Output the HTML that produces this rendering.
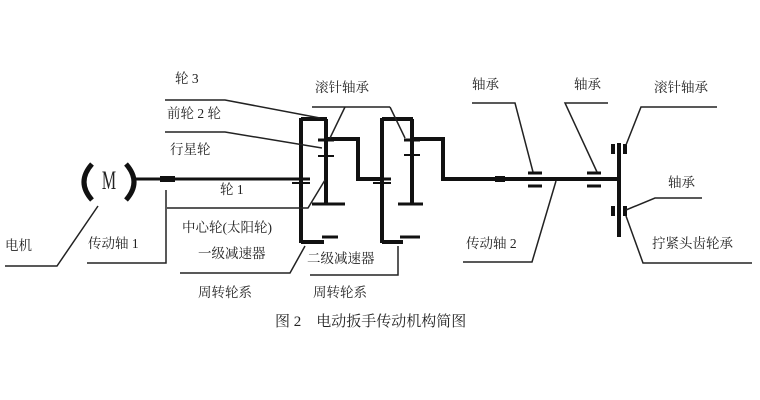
<!DOCTYPE html>
<html><head><meta charset="utf-8"><style>
html,body{margin:0;padding:0;background:#fff;}
svg{display:block}
text{font-family:"Liberation Serif","Noto Serif CJK SC","Noto Sans CJK SC",serif;font-size:13.5px;fill:#222}
</style></head><body>
<svg width="760" height="400" viewBox="0 0 760 400">
<g stroke="#111" fill="none">
<path d="M92 164 Q76 182 92 200" stroke-width="5"/>
<path d="M126 164 Q142 182 126 200" stroke-width="5"/>
<line x1="133" y1="179" x2="300" y2="179" stroke-width="3"/>
<rect x="160" y="176" width="15" height="6" fill="#111" stroke="none"/>
<line x1="301" y1="118" x2="301" y2="243" stroke-width="4"/>
<line x1="301" y1="119" x2="327" y2="119" stroke-width="4"/>
<line x1="326" y1="119" x2="326" y2="204" stroke-width="4"/>
<line x1="312" y1="204" x2="345" y2="204" stroke-width="3"/>
<line x1="301" y1="242" x2="324" y2="242" stroke-width="4"/>
<line x1="322" y1="237" x2="338" y2="237" stroke-width="3"/>
<line x1="292" y1="179" x2="310" y2="179" stroke-width="3"/>
<line x1="292" y1="183" x2="310" y2="183" stroke-width="2"/>
<line x1="318" y1="140" x2="334" y2="140" stroke-width="3"/>
<line x1="318" y1="156" x2="334" y2="156" stroke-width="2"/>
<polyline points="326,139 358,139 358,179 382,179" stroke-width="4"/>
<line x1="382" y1="118" x2="382" y2="243" stroke-width="4"/>
<line x1="382" y1="119" x2="413" y2="119" stroke-width="4"/>
<line x1="412" y1="119" x2="412" y2="204" stroke-width="4"/>
<line x1="398" y1="204" x2="423" y2="204" stroke-width="3"/>
<line x1="382" y1="242" x2="403" y2="242" stroke-width="4"/>
<line x1="400" y1="237" x2="420" y2="237" stroke-width="3"/>
<line x1="373" y1="179" x2="391" y2="179" stroke-width="3"/>
<line x1="373" y1="183" x2="391" y2="183" stroke-width="2"/>
<line x1="404" y1="140" x2="420" y2="140" stroke-width="3"/>
<line x1="404" y1="155" x2="420" y2="155" stroke-width="2"/>
<polyline points="412,139 443,139 443,179 620,179" stroke-width="4"/>
<rect x="495" y="176" width="10" height="6" fill="#111" stroke="none"/>
<line x1="528" y1="173" x2="542" y2="173" stroke-width="3"/>
<line x1="528" y1="186" x2="542" y2="186" stroke-width="3"/>
<line x1="587" y1="173" x2="601" y2="173" stroke-width="3"/>
<line x1="587" y1="186" x2="601" y2="186" stroke-width="3"/>
<line x1="619" y1="143" x2="619" y2="237" stroke-width="4"/>
<rect x="611" y="144" width="4" height="10" fill="#111" stroke="none"/>
<rect x="623" y="144" width="4" height="10" fill="#111" stroke="none"/>
<rect x="611" y="206" width="4" height="10" fill="#111" stroke="none"/>
<rect x="623" y="206" width="4" height="10" fill="#111" stroke="none"/>
</g>
<g stroke="#222" stroke-width="1.5" fill="none">
<polyline points="165,100 225,100 320,118"/>
<polyline points="165,132 225,132 322,148"/>
<polyline points="167,208 308,208 325,180"/>
<polyline points="87,263 166,263 166,190"/>
<polyline points="5,266 57,266 98,206"/>
<polyline points="180,273 290,273 305,246"/>
<polyline points="310,275 398,275 398,246"/>
<polyline points="312,107 390,107"/>
<line x1="345" y1="107" x2="330" y2="138"/>
<line x1="390" y1="107" x2="405" y2="138"/>
<polyline points="472,103 515,103 533,172"/>
<polyline points="608,103 565,103 597,172"/>
<polyline points="717,107 641,107 626,145"/>
<polyline points="702,198 655,198 626,210"/>
<polyline points="463,262 532,262 556,181"/>
<polyline points="752,263 643,263 626,216"/>
</g>
<text x="109" y="189" text-anchor="middle" transform="translate(109 189) scale(0.8 1.3) translate(-109 -189)" style="font-size:20px;fill:#222">M</text>
<text x="175" y="83">轮 3</text>
<text x="167" y="118">前轮 2 轮</text>
<text x="170" y="154">行星轮</text>
<text x="220" y="194">轮 1</text>
<text x="182" y="232">中心轮(太阳轮)</text>
<text x="198" y="258">一级减速器</text>
<text x="198" y="297">周转轮系</text>
<text x="307" y="263">二级减速器</text>
<text x="313" y="297">周转轮系</text>
<text x="315" y="92">滚针轴承</text>
<text x="5" y="250">电机</text>
<text x="88" y="248">传动轴 1</text>
<text x="472" y="89">轴承</text>
<text x="574" y="89">轴承</text>
<text x="654" y="92">滚针轴承</text>
<text x="668" y="187">轴承</text>
<text x="466" y="248">传动轴 2</text>
<text x="652" y="248">拧紧头齿轮承</text>
<text x="275" y="326" style="font-size:15px">图 2　电动扳手传动机构简图</text>
</svg>
</body></html>
